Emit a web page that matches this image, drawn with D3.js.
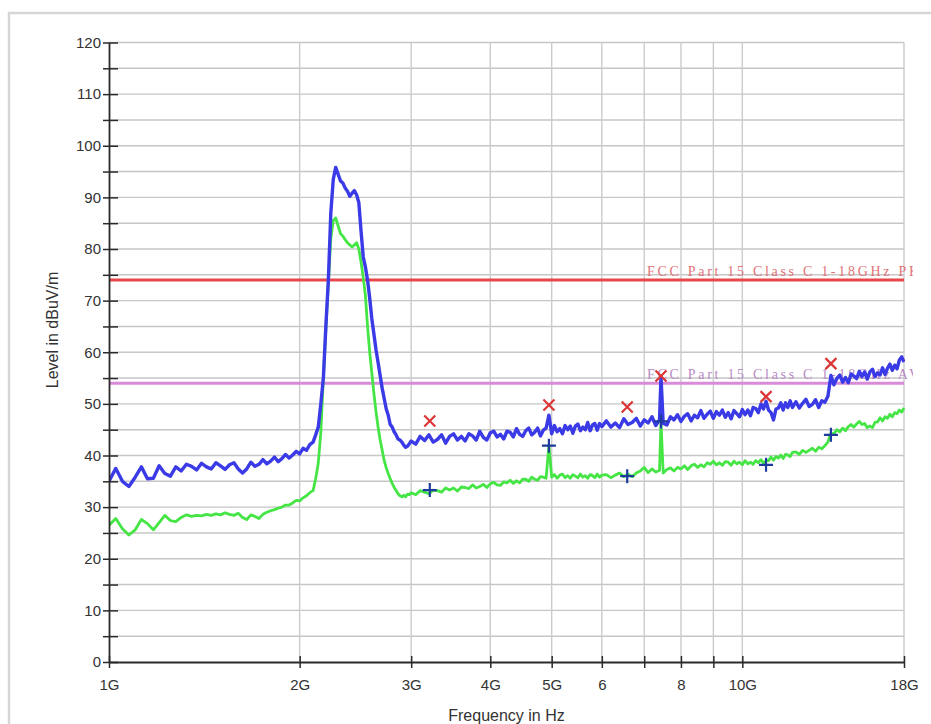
<!DOCTYPE html>
<html><head><meta charset="utf-8">
<script src="https://cdn.jsdelivr.net/npm/d3@7"></script>
<style>body{margin:0;background:#fff}svg{display:block}</style>
</head><body>
<svg id="c" width="931" height="724"></svg>
<script>
// ---- data (frequency in GHz, levels in dBuV/m) ----
const freqGHz = [
1.000,1.025,1.050,1.075,1.100,1.125,1.150,1.175,1.200,1.225,1.250,1.275,1.300,1.325,1.350,1.375,1.400,1.425,1.450,1.475,1.500,1.525,1.550,1.575,1.600,1.625,1.650,1.675,1.700,1.725,1.750,1.775,1.800,1.825,1.850,1.875,1.900,1.925,1.950,1.975,2.000,2.025,2.050,2.075,
2.10,2.12,2.14,2.16,2.18,2.20,2.22,2.24,2.26,2.28,2.30,2.32,2.34,2.36,2.38,2.40,2.42,2.44,2.46,2.48,2.50,2.52,2.54,2.56,2.58,2.60,2.62,2.64,2.66,2.68,2.70,2.72,2.74,2.76,2.78,2.80,2.82,2.84,2.86,2.88,2.90,2.92,2.94,2.96,2.98,3.00,
3.05,3.10,3.15,3.20,3.25,3.30,3.35,3.40,3.45,3.50,3.55,3.60,3.65,3.70,3.75,3.80,3.85,3.90,3.95,4.00,4.05,4.10,4.15,4.20,4.25,4.30,4.35,4.40,4.45,4.50,4.55,4.60,4.65,4.70,4.75,4.80,4.85,4.90,4.95,5.00,5.05,5.10,5.15,5.20,5.25,5.30,5.35,5.40,5.45,5.50,5.55,5.60,5.65,5.70,5.75,5.80,5.85,5.90,5.95,6.00,
6.1,6.2,6.3,6.4,6.5,6.6,6.7,6.8,6.9,7.0,7.1,7.2,7.3,7.4,7.44,7.5,7.6,7.7,7.8,7.9,8.0,8.1,8.2,8.3,8.4,8.5,8.6,8.7,8.8,8.9,9.0,9.1,9.2,9.3,9.4,9.5,9.6,9.7,9.8,9.9,10.0,10.1,10.2,10.3,10.4,10.5,10.6,10.7,10.8,10.9,11.0,11.1,11.2,11.3,11.4,11.5,11.6,11.7,11.8,11.9,12.0,
12.15,12.30,12.45,12.60,12.75,12.90,13.05,13.20,13.35,13.50,13.65,13.80,13.95,14.10,14.25,14.40,14.55,14.70,14.85,15.00,15.15,15.30,15.45,15.60,15.75,15.90,16.05,16.20,16.35,16.50,16.65,16.80,16.95,17.10,17.25,17.40,17.55,17.70,17.85,18.00
];
const peakLevel = [
35.0,37.5,35.0,34.0,35.8,37.8,35.5,35.6,38.0,36.5,36.0,37.8,37.0,38.3,37.9,37.2,38.5,37.8,37.4,38.6,38.0,37.3,38.2,38.6,37.4,36.6,37.4,38.7,37.9,38.3,39.2,38.4,38.9,39.7,38.8,39.4,40.2,39.5,40.1,40.8,40.3,41.4,41.0,42.1,
42.6,44.0,45.5,50.0,55.0,65.0,74.0,87.0,93.5,95.8,94.5,93.2,92.8,91.8,91.2,90.2,90.8,91.3,90.5,89.0,83.5,78.5,76.5,74.0,70.5,66.5,63.5,60.5,58.0,55.5,53.0,51.0,49.0,47.8,46.0,45.5,44.6,44.0,43.2,43.0,42.6,42.0,41.6,41.8,42.3,42.8,
42.2,43.7,42.9,44.0,42.6,43.1,44.0,42.4,43.7,44.2,43.0,43.7,42.8,44.2,43.8,43.0,44.7,43.5,43.0,44.4,44.7,43.6,44.1,43.2,44.7,44.5,43.6,45.2,44.1,43.7,44.8,45.3,44.0,44.5,45.3,43.8,44.9,45.3,47.8,44.2,45.8,44.6,45.2,44.2,45.8,45.0,45.7,44.3,45.7,46.1,44.8,45.5,45.0,46.4,44.8,45.9,46.2,44.9,46.2,45.6,
46.7,45.5,46.3,45.4,47.1,46.0,46.4,47.2,45.7,46.9,46.3,47.5,45.8,46.9,55.2,46.2,45.9,47.5,46.9,47.9,46.6,47.6,48.1,46.7,47.8,47.3,48.7,47.2,48.0,48.6,47.2,48.5,47.8,48.8,47.4,48.3,47.1,48.7,48.1,47.5,48.9,47.9,48.8,47.7,49.3,49.1,48.3,50.0,49.0,50.5,48.8,48.3,46.9,49.0,49.2,50.2,48.8,50.2,49.3,50.6,49.3,
50.4,49.2,50.1,50.9,49.5,49.9,50.8,49.3,50.6,50.3,51.5,55.5,53.7,54.9,55.6,54.2,55.1,54.1,55.8,55.4,54.9,56.3,55.3,56.2,54.8,56.2,56.7,55.3,56.0,55.6,57.0,55.7,56.9,57.7,56.5,57.5,56.8,58.5,59.1,58.1
];
const averageLevel = [
26.5,27.8,25.8,24.6,25.6,27.6,26.8,25.6,27.0,28.4,27.4,27.2,28.0,28.5,28.2,28.4,28.3,28.6,28.4,28.7,28.5,28.9,28.6,28.4,28.8,28.0,27.6,28.5,28.2,27.8,28.6,29.0,29.3,29.5,29.8,30.0,30.4,30.4,30.8,31.3,31.2,31.8,32.2,32.8,
33.2,35.5,38.5,44.5,55.0,64.5,73.5,82.0,85.5,86.0,84.5,83.0,82.5,81.8,81.2,80.8,80.4,80.8,81.2,80.0,77.5,74.5,71.0,65.0,60.0,56.0,52.0,48.5,45.5,43.0,41.0,39.0,37.6,36.5,35.5,34.6,33.8,33.2,32.6,32.2,32.0,32.3,32.0,32.5,32.4,32.8,
32.4,33.2,32.9,32.6,33.3,33.2,32.9,33.7,33.3,33.7,33.1,33.9,33.8,33.6,34.3,33.7,34.0,34.4,33.8,34.5,34.8,34.3,34.2,34.9,34.7,35.2,34.6,35.1,34.7,35.4,35.4,35.0,35.8,35.4,35.2,35.9,35.8,35.6,41.9,35.8,36.3,35.6,36.2,36.4,35.7,36.1,35.6,36.3,36.0,35.7,36.4,35.8,36.1,35.6,36.3,36.1,35.7,36.4,35.8,36.2,
36.3,35.7,36.2,36.6,35.9,36.4,35.9,36.6,37.0,37.7,36.7,37.4,36.8,37.1,46.5,36.6,37.3,37.6,37.0,37.7,37.4,38.0,37.3,38.0,38.3,37.7,38.2,37.8,38.6,38.3,38.9,38.2,38.6,38.1,38.8,38.7,38.1,38.9,38.4,38.7,38.2,39.0,38.4,38.7,38.3,39.0,38.6,39.2,38.5,39.0,39.0,39.7,39.1,39.8,39.5,40.1,39.4,40.2,40.1,39.8,40.6,
40.7,40.2,41.0,40.6,41.0,41.4,40.8,41.6,41.3,41.9,42.6,44.3,44.2,45.0,44.6,45.3,44.8,45.6,46.0,45.5,46.1,46.6,46.0,46.2,45.4,45.7,45.4,46.4,46.5,47.3,46.7,47.5,47.2,48.0,47.5,48.3,48.1,48.8,48.4,49.2
];
const finalFreqGHz = [3.21, 4.95, 6.58, 7.44, 10.9, 13.8];
const finalPeakLevel = [46.7, 49.8, 49.4, 55.4, 51.4, 57.8];
const finalAverageLevel = [33.3, 41.9, 36.0, 46.6, 38.2, 44.0];
const limitLevels = [74, 54];
const limitLabels = ["FCC Part 15 Class C 1-18GHz PK", "FCC Part 15 Class C 1-18GHz AV"];
const xTickValues = [1, 2, 3, 4, 5, 6, 7, 8, 9, 10, 18];
const xTickLabels = ["1G", "2G", "3G", "4G", "5G", "6", "", "8", "", "10G", "18G"];
const yTickValues = [0, 5, 10, 15, 20, 25, 30, 35, 40, 45, 50, 55, 60, 65, 70, 75, 80, 85, 90, 95, 100, 105, 110, 115, 120];
const xTitle = "Frequency in Hz";
const yTitle = "Level in dBuV/m";

// ---- drawing ----
const svg = d3.select("#c");
const L = 109, R = 904, T = 42.5, B = 662;
const x = d3.scaleLog().domain([1, 18]).range([L, R]);
const y = d3.scaleLinear().domain([0, 120]).range([B, T]);
const FONT = "'Liberation Sans', Arial, sans-serif";

svg.append("rect").attr("width", 931).attr("height", 724).attr("fill", "#fff");
svg.append("rect").attr("x", 9).attr("y", 13).attr("width", 940).attr("height", 740)
  .attr("fill", "none").attr("stroke", "#d6d6d6").attr("stroke-width", 2.5);

const defs = svg.append("defs");
defs.append("clipPath").attr("id", "plotClip").append("rect")
  .attr("x", L).attr("y", T - 2).attr("width", R - L + 1).attr("height", B - T + 2);
defs.append("clipPath").attr("id", "textClip").append("rect")
  .attr("x", L).attr("y", 0).attr("width", 913 - L).attr("height", 724);

// grid
svg.append("g").selectAll("line").data(yTickValues.filter(d => d > 0)).join("line")
  .attr("x1", L).attr("x2", R).attr("y1", d => y(d)).attr("y2", d => y(d))
  .attr("stroke", "#c6c6c6").attr("stroke-width", 1.4);
svg.append("g").selectAll("line").data(xTickValues.filter(d => d > 1)).join("line")
  .attr("x1", d => x(d)).attr("x2", d => x(d)).attr("y1", T).attr("y2", B)
  .attr("stroke", "#cbcbcb").attr("stroke-width", 1.4);

// limit lines
const limColors = ["#e8464b", "#d98ad9"];
svg.append("g").selectAll("line").data(limitLevels).join("line")
  .attr("x1", L).attr("x2", R).attr("y1", d => y(d)).attr("y2", d => y(d))
  .attr("stroke", (d, i) => limColors[i]).attr("stroke-width", 3);

const txtColors = ["#e07276", "#b889c4"];
svg.append("g").attr("clip-path", "url(#textClip)").selectAll("text").data(limitLabels).join("text")
  .attr("x", 647).attr("y", (d, i) => y(limitLevels[i]) - 4)
  .attr("textLength", 272).attr("lengthAdjust", "spacing")
  .attr("font-family", "'Liberation Serif', 'Times New Roman', serif").attr("font-size", 14)
  .attr("fill", (d, i) => txtColors[i]).text(d => d);

// traces
const gTr = svg.append("g").attr("clip-path", "url(#plotClip)");
const line = d3.line().x(d => x(d[0])).y(d => y(d[1]));
gTr.append("path").datum(freqGHz.map((f, i) => [f, averageLevel[i]]))
  .attr("d", line).attr("fill", "none").attr("stroke", "#45e545").attr("stroke-width", 2.8)
  .attr("stroke-linejoin", "round");
gTr.append("path").datum(freqGHz.map((f, i) => [f, peakLevel[i]]))
  .attr("d", line).attr("fill", "none").attr("stroke", "#3a3ae6").attr("stroke-width", 3.4)
  .attr("stroke-linejoin", "round");

// axes
const gx = svg.append("g").attr("transform", `translate(0,${B})`)
  .call(d3.axisBottom(x).tickValues(xTickValues).tickFormat((d, i) => xTickLabels[i])
    .tickSize(5).tickSizeOuter(0).tickPadding(12));
gx.attr("font-family", FONT).attr("font-size", 15);
gx.select(".domain").attr("stroke", "#2a2a2a").attr("stroke-width", 2);
gx.selectAll(".tick line").attr("y1", -6).attr("y2", 6).attr("stroke", "#2a2a2a").attr("stroke-width", 1.5);
gx.selectAll(".tick text").attr("fill", "#333");

const gy = svg.append("g").attr("transform", `translate(${L},0)`)
  .call(d3.axisLeft(y).tickValues(yTickValues).tickFormat(d => d % 10 === 0 ? d : "")
    .tickSize(6).tickSizeOuter(0).tickPadding(2));
gy.attr("font-family", FONT).attr("font-size", 15);
gy.select(".domain").attr("stroke", "#2a2a2a").attr("stroke-width", 1.8);
gy.selectAll(".tick line").attr("x1", 9).attr("x2", -6).attr("stroke", "#2a2a2a").attr("stroke-width", 1.5);
gy.selectAll(".tick text").attr("fill", "#333");

svg.append("text").attr("x", (L + R) / 2).attr("y", 721).attr("text-anchor", "middle")
  .attr("font-family", FONT).attr("font-size", 16).attr("fill", "#333").text(xTitle);
svg.append("text").attr("transform", "translate(58,330) rotate(-90)").attr("text-anchor", "middle")
  .attr("font-family", FONT).attr("font-size", 16).attr("fill", "#333").text(yTitle);

// final measurement markers
const gm = svg.append("g");
finalFreqGHz.forEach((f, i) => {
  const cx = x(f), cy = y(finalAverageLevel[i]);
  gm.append("path").attr("d", `M${cx - 7},${cy}H${cx + 7}M${cx},${cy - 7}V${cy + 7}`)
    .attr("stroke", "#1d3b9c").attr("stroke-width", 2.2).attr("fill", "none");
});
finalFreqGHz.forEach((f, i) => {
  const cx = x(f), cy = y(finalPeakLevel[i]);
  gm.append("path").attr("d", `M${cx - 5.5},${cy - 5.5}L${cx + 5.5},${cy + 5.5}M${cx - 5.5},${cy + 5.5}L${cx + 5.5},${cy - 5.5}`)
    .attr("stroke", "#dc3535").attr("stroke-width", 2.2).attr("fill", "none");
});
</script>
</body></html>
